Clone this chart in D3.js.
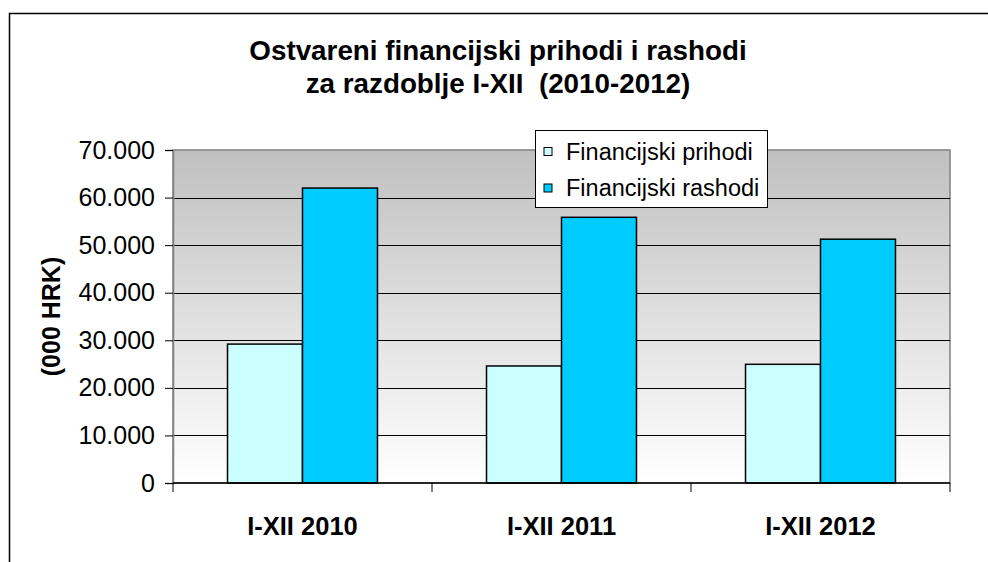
<!DOCTYPE html>
<html><head><meta charset="utf-8">
<script src="https://cdn.jsdelivr.net/npm/d3@7/dist/d3.min.js"></script>
<style>
html,body{margin:0;padding:0;background:#fff;}
svg{display:block;font-family:"Liberation Sans",Arial,sans-serif;}
</style></head>
<body>
<svg id="chart" width="988" height="562"></svg>
<script>
const categories = ["I-XII 2010", "I-XII 2011", "I-XII 2012"];
const seriesNames = ["Financijski prihodi", "Financijski rashodi"];
const prihodi = [29200, 24600, 24950];
const rashodi = [62000, 55850, 51250];
const yTicks = [0, 10000, 20000, 30000, 40000, 50000, 60000, 70000];
const titleLines = ["Ostvareni financijski prihodi i rashodi", "za razdoblje I-XII  (2010-2012)"];
const yTitle = "(000 HRK)";
const colors = ["#CCFFFF", "#00CCFF"];

const svg = d3.select("#chart");
const plot = {left: 173, right: 950, top: 150, bottom: 483};

// outer chart border
svg.append("rect").attr("x", 9.5).attr("y", 13.5).attr("width", 1100).attr("height", 700)
  .attr("fill", "#fff").attr("stroke", "#000").attr("stroke-width", 1.5);

const defs = svg.append("defs");
const grad = defs.append("linearGradient").attr("id", "bg").attr("x1", 0).attr("y1", 0).attr("x2", 0).attr("y2", 1);
grad.append("stop").attr("offset", "0%").attr("stop-color", "#c0c0c0");
grad.append("stop").attr("offset", "100%").attr("stop-color", "#ffffff");

const x0 = d3.scaleBand().domain(categories).range([plot.left, plot.right]).padding(0);
const x1 = d3.scaleBand().domain(seriesNames).range([0, x0.bandwidth()]).paddingInner(0).paddingOuter(0.727);
const y = d3.scaleLinear().domain([0, 70000]).range([plot.bottom, plot.top]);

svg.append("rect").attr("x", plot.left).attr("y", plot.top)
  .attr("width", plot.right - plot.left).attr("height", plot.bottom - plot.top)
  .attr("fill", "url(#bg)").attr("stroke", "#808080").attr("stroke-width", 1.5);

// gridlines
svg.append("g").selectAll("line").data(yTicks.filter(d => d > 0 && d < 70000)).join("line")
  .attr("x1", plot.left).attr("x2", plot.right)
  .attr("y1", d => Math.round(y(d)) + 0.5).attr("y2", d => Math.round(y(d)) + 0.5)
  .attr("stroke", "#000").attr("stroke-width", 1);

// bars
const data = categories.map((c, i) => ({cat: c, vals: [prihodi[i], rashodi[i]]}));
svg.append("g").selectAll("g").data(data).join("g")
  .attr("transform", d => `translate(${x0(d.cat)},0)`)
  .selectAll("rect").data(d => d.vals.map((v, j) => ({s: seriesNames[j], v, j}))).join("rect")
  .attr("x", d => x1(d.s)).attr("width", x1.bandwidth())
  .attr("y", d => y(d.v)).attr("height", d => y(0) - y(d.v))
  .attr("fill", d => colors[d.j]).attr("stroke", "#000").attr("stroke-width", 1.5);

// y axis
const yAxis = d3.axisLeft(y).tickValues(yTicks).tickSize(8).tickPadding(10)
  .tickFormat(d => d === 0 ? "0" : d3.format(",")(d).replace(/,/g, "."));
const ya = svg.append("g").attr("transform", `translate(${plot.left},0)`).call(yAxis);
ya.select(".domain").attr("stroke", "#808080").attr("stroke-width", 1.5);
ya.selectAll(".tick line").attr("stroke", "#000");
ya.selectAll(".tick text").attr("font-size", 25).attr("fill", "#000")
  .attr("font-family", "'Liberation Sans', Arial, sans-serif");

// x axis
const xa = svg.append("g").attr("transform", `translate(0,${plot.bottom})`);
xa.append("line").attr("x1", plot.left).attr("x2", plot.right).attr("y1", 0).attr("y2", 0)
  .attr("stroke", "#000").attr("stroke-width", 1.5);
const bounds = categories.map(c => x0(c)).concat([x0(categories[categories.length - 1]) + x0.bandwidth()]);
xa.selectAll("line.tk").data(bounds).join("line").attr("class", "tk")
  .attr("x1", d => d).attr("x2", d => d).attr("y1", 0).attr("y2", 9)
  .attr("stroke", "#000").attr("stroke-width", 1);
xa.selectAll("text").data(categories).join("text")
  .attr("x", d => x0(d) + x0.bandwidth() / 2).attr("y", 52)
  .attr("text-anchor", "middle").attr("font-size", 25.5).attr("font-weight", "bold")
  .text(d => d);

// y title
svg.append("text").attr("transform", `translate(60,${(plot.top + plot.bottom) / 2}) rotate(-90)`)
  .attr("text-anchor", "middle").attr("font-size", 25).attr("font-weight", "bold").text(yTitle);

// title
svg.append("g").selectAll("text").data(titleLines).join("text")
  .attr("x", 498).attr("y", (d, i) => 59.5 + i * 33)
  .attr("text-anchor", "middle").attr("font-size", 27.8).attr("font-weight", "bold")
  .style("white-space", "pre")
  .text(d => d);

// legend
const lg = svg.append("g");
lg.append("rect").attr("x", 535.5).attr("y", 130.5).attr("width", 232).attr("height", 77)
  .attr("fill", "#fff").attr("stroke", "#000").attr("stroke-width", 1);
const items = lg.selectAll("g").data(seriesNames).join("g")
  .attr("transform", (d, i) => `translate(0,${151.5 + i * 36.5})`);
items.append("rect").attr("x", 544).attr("y", -4).attr("width", 8).attr("height", 8)
  .attr("fill", (d, i) => colors[i]).attr("stroke", "#000").attr("stroke-width", 1);
items.append("text").attr("x", 566).attr("y", 0).attr("dy", "0.35em")
  .attr("font-size", 23.5).text(d => d);
</script>
</body></html>
